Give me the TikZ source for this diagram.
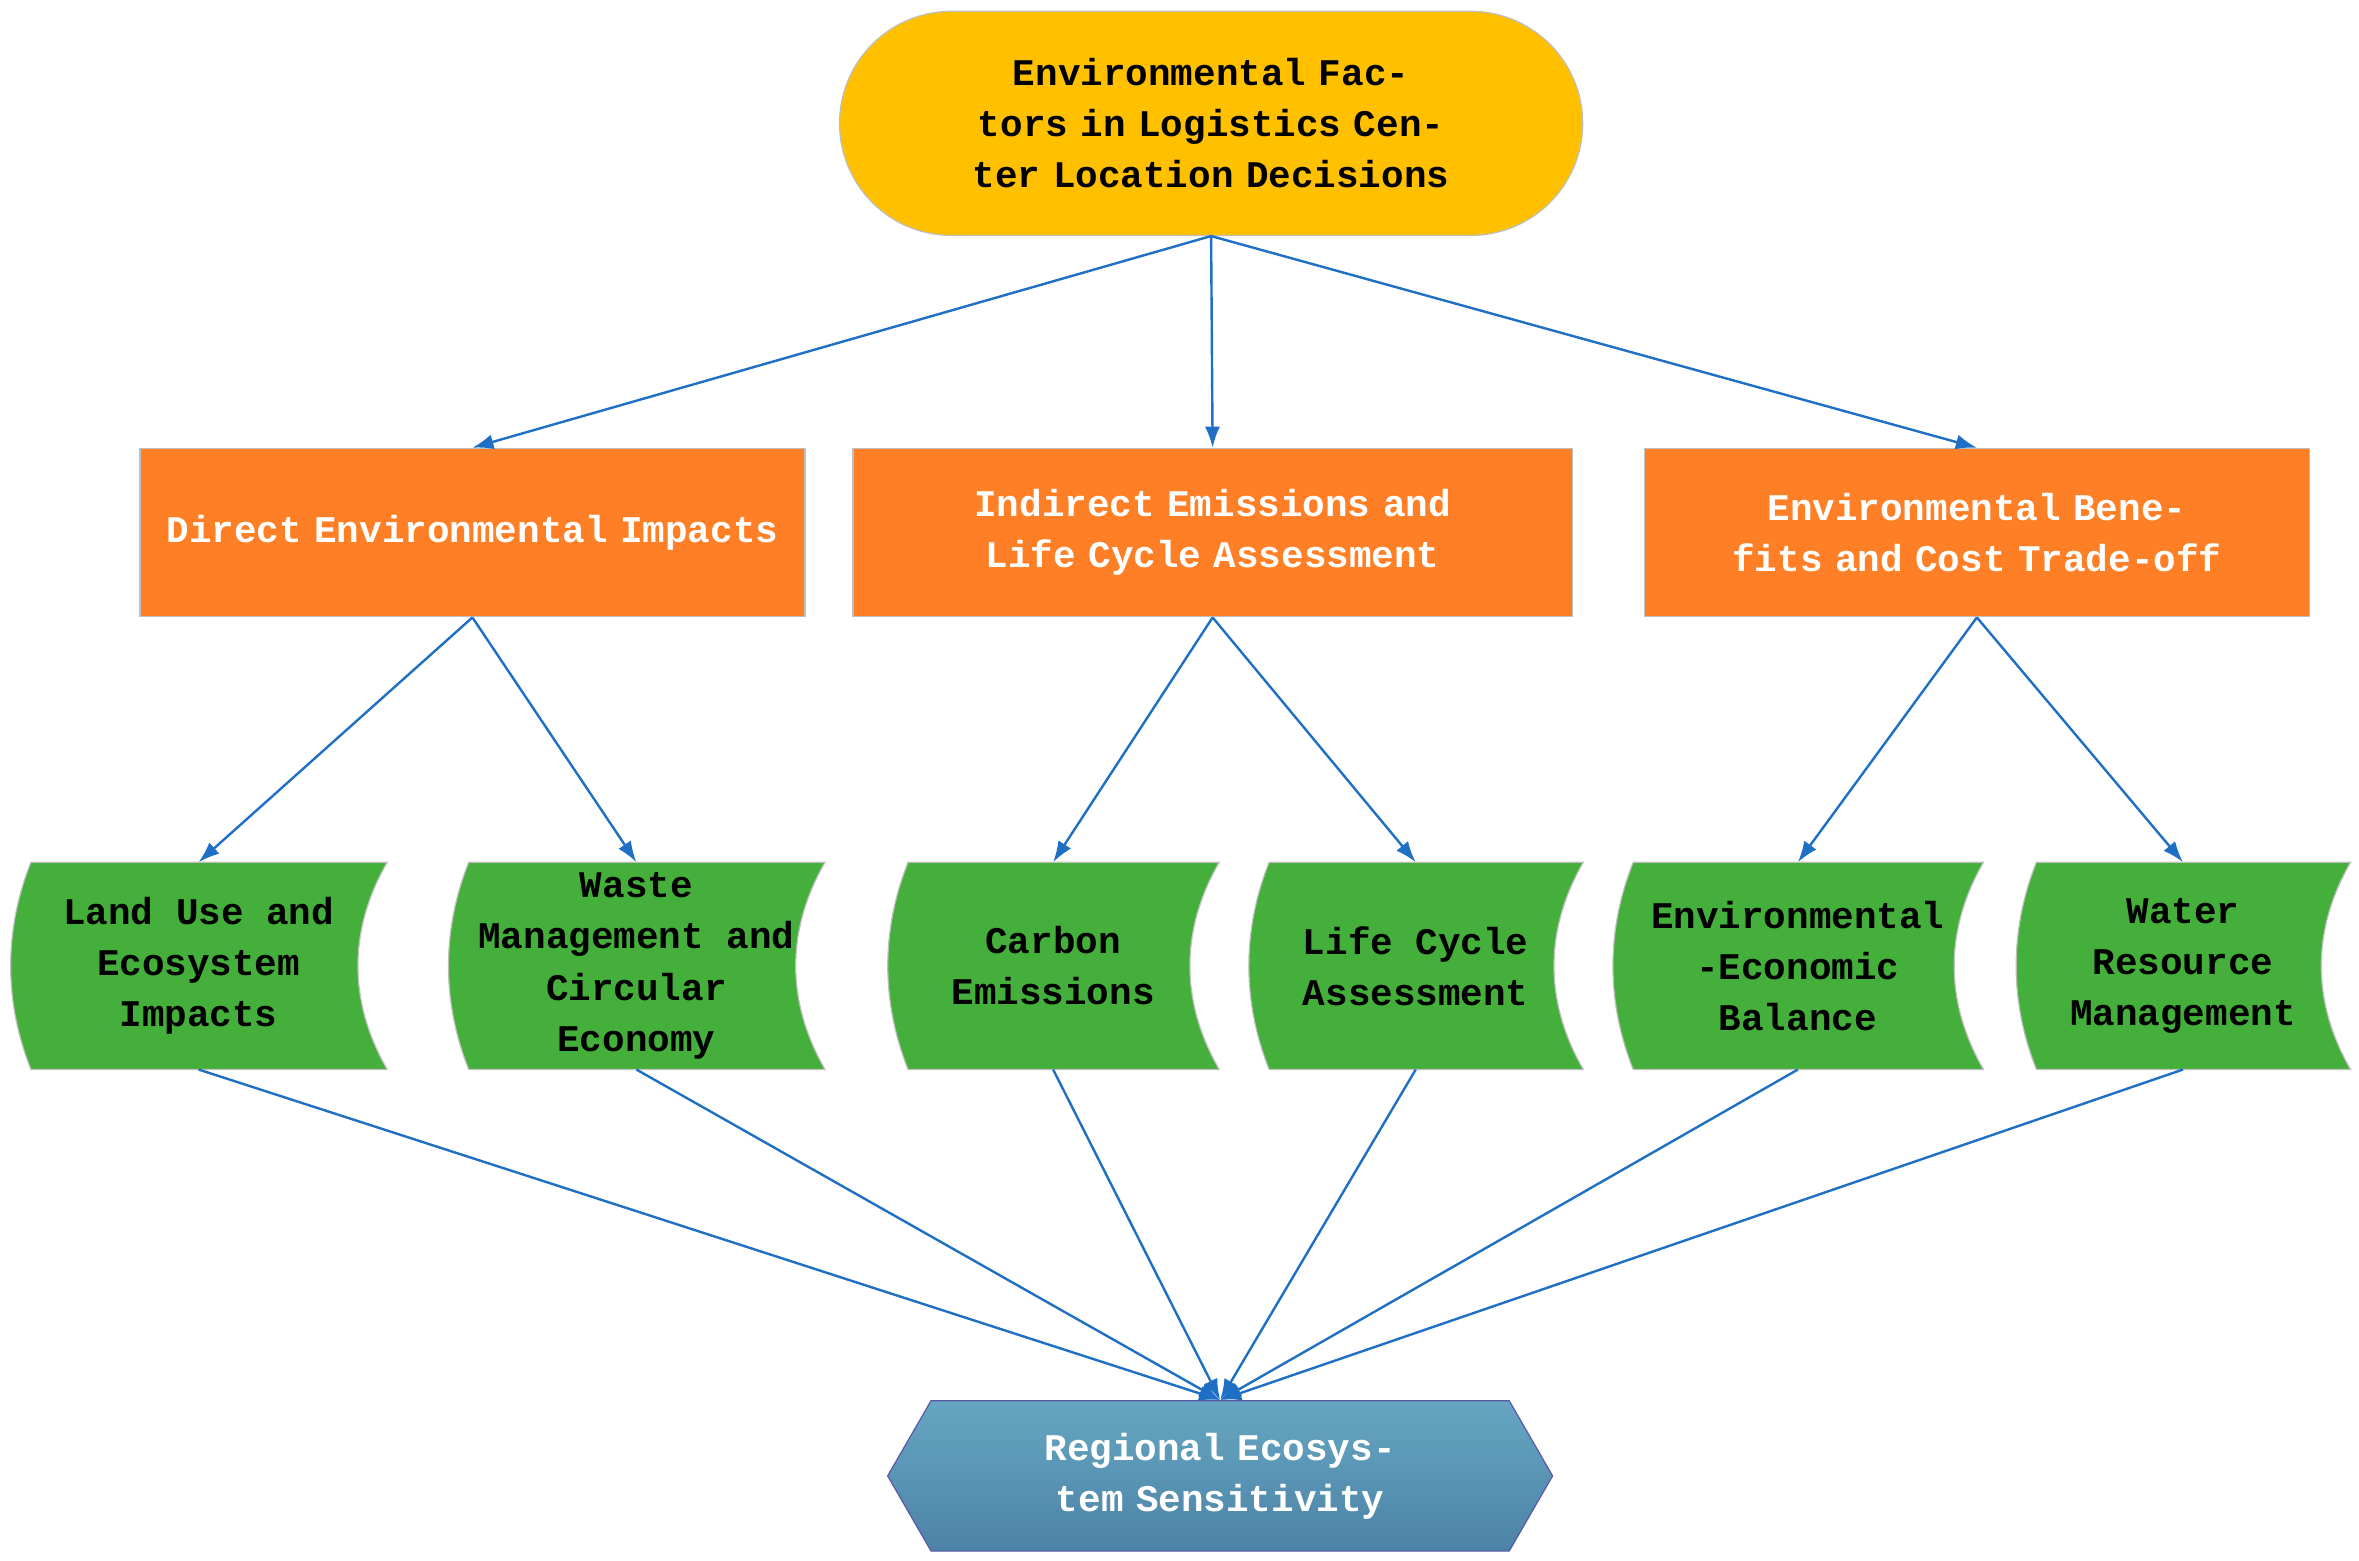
\documentclass[tikz,border=0pt]{standalone}
\usepackage{fontspec}
\setmainfont{Liberation Mono}
\usetikzlibrary{shapes.misc,shapes.symbols,arrows.meta}
\definecolor{topc}{HTML}{FFC000}
\definecolor{midc}{HTML}{FF7F27}
\definecolor{leafc}{HTML}{44AF3A}
\definecolor{linkc}{HTML}{1F6FC5}
\tikzset{
	base/.style={font=\bfseries\fontsize{12.5}{17}\selectfont, align=center, inner sep=0pt},
	top/.style={base, rounded rectangle, fill=topc, draw=gray!50, minimum width=247pt, minimum height=74.5pt, text width=200pt},
	mid/.style={base, rectangle, fill=midc, draw=gray!50, text=white, minimum width=221pt, minimum height=56pt, text width=215pt},
	leaf/.style={base, rectangle, minimum width=124pt, minimum height=68.5pt, text width=110pt},
	sink/.style={base, signal, signal to=east and west, signal pointer angle=120, draw=gray!70!blue, text=white,
		top color=blue!30!cyan!60!black!60, bottom color=blue!40!cyan!50!black!70, minimum width=221pt, minimum height=50pt, text width=150pt},
	link/.style={-{Latex[length=7pt,width=5pt]}, linkc, thick}
}
\newcommand{\leafshape}[1]{
	\fill[leafc, draw=gray!50] ($(#1.north west)+(7pt,0)$) .. controls ($(#1.west)+(-2pt,12pt)$) and ($(#1.west)+(-2pt,-12pt)$) .. ($(#1.south west)+(7pt,0)$)
		-- (#1.south east) .. controls ($(#1.east)+(-13pt,-12pt)$) and ($(#1.east)+(-13pt,12pt)$) .. (#1.north east) -- cycle;
}
\usetikzlibrary{calc}
\begin{document}
\begin{tikzpicture}[x=0.5pt,y=-0.5pt]
	\useasboundingbox (0,0) rectangle (1568,1037);
	\node[top] (root) at (805,82) {Environmental Factors in Logistics Center Location Decisions};
	\node[mid] (direct) at (314,354) {Direct Environmental Impacts};
	\node[mid, minimum width=239pt] (indirect) at (806,354) {Indirect Emissions and Life Cycle Assessment};
	\node[mid] (benefit) at (1314,354) {Environmental Benefits and Cost Trade-off};
	% green leaves
	\foreach \n/\x/\w in {land/132/125, waste/423/125, carbon/700/110, lca/941/111, balance/1195/123, water/1451/111}{
		\node[leaf, minimum width=\w pt] (\n) at (\x,642) {};
		\leafshape{\n}
	}
	\node[base] at (land) {Land Use and\\Ecosystem\\Impacts};
	\node[base] at (waste) {Waste\\Management and\\Circular\\Economy};
	\node[base] at (carbon) {Carbon\\Emissions};
	\node[base] at (lca) {Life Cycle\\Assessment};
	\node[base] at (balance) {Environmental\\-Economic\\Balance};
	\node[base] at (water) {Water\\Resource\\Management};
	\node[sink] (region) at (811,981) {Regional Ecosystem Sensitivity};
	% links
	\draw[link] (root.south) -- (direct.north);
	\draw[link] (root.south) -- (indirect.north);
	\draw[link] (root.south) -- (benefit.north);
	\draw[link] (direct.south) -- (land.north);
	\draw[link] (direct.south) -- (waste.north);
	\draw[link] (indirect.south) -- (carbon.north);
	\draw[link] (indirect.south) -- (lca.north);
	\draw[link] (benefit.south) -- (balance.north);
	\draw[link] (benefit.south) -- (water.north);
	\foreach \n in {land,waste,carbon,lca,balance,water}
		\draw[link] (\n.south) -- (region.north);
\end{tikzpicture}
\end{document}
